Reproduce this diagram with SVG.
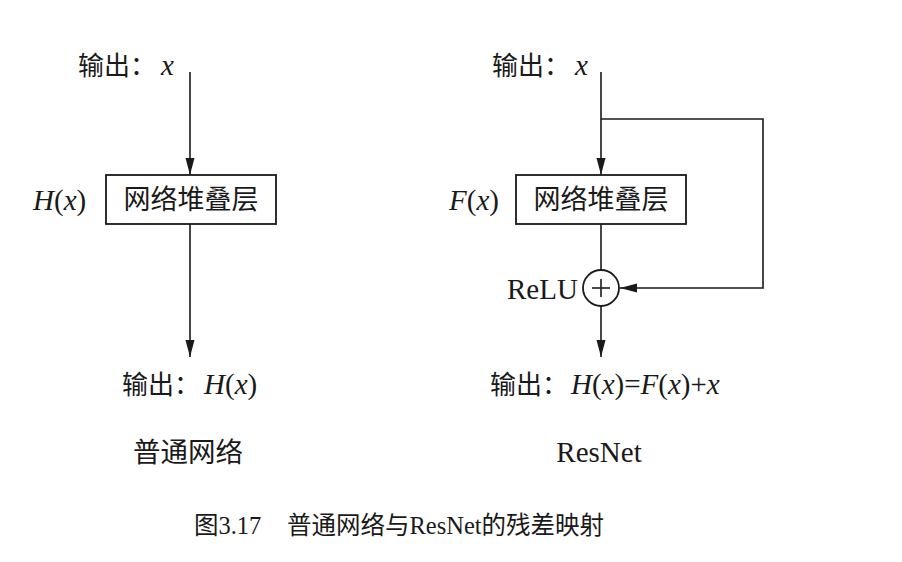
<svg xmlns="http://www.w3.org/2000/svg" width="902" height="562" viewBox="0 0 902 562">
<style>
.cn{font-family:"Liberation Serif","Noto Sans CJK SC",serif;font-size:26px;fill:#1a1a1a}
.m{font-family:"Liberation Serif","Noto Sans CJK SC",serif;font-size:29px;fill:#1a1a1a}
.i{font-style:italic}
.ln{stroke:#1a1a1a;stroke-width:1.6;fill:none}
.box{stroke:#1a1a1a;stroke-width:1.8;fill:#fff}
</style>
<defs>
<marker id="ah" markerUnits="userSpaceOnUse" markerWidth="18" markerHeight="10" refX="17" refY="5" orient="auto">
<path d="M0,0.5 L17,5 L0,9.5 z" fill="#1a1a1a"/>
</marker>
</defs>
<rect width="902" height="562" fill="#fff"/>
<g id="connectors">
<line class="ln" x1="190" y1="72" x2="190" y2="175" marker-end="url(#ah)"/>
<line class="ln" x1="190" y1="224" x2="190" y2="357" marker-end="url(#ah)"/>
<line class="ln" x1="601" y1="72" x2="601" y2="175" marker-end="url(#ah)"/>
<polyline class="ln" points="601,119 763,119 763,288 620,288" marker-end="url(#ah)"/>
<line class="ln" x1="601" y1="224" x2="601" y2="270"/>
<line class="ln" x1="601" y1="306" x2="601" y2="357" marker-end="url(#ah)"/>
</g>
<g id="left-input">
<text class="cn" x="78" y="75">输出：<tspan class="m i" x="161">x</tspan></text>
</g>
<g id="left-box">
<rect class="box" x="106" y="175" width="170" height="49"/>
<text class="cn" x="191" y="209" text-anchor="middle" style="font-size:27px">网络堆叠层</text>
<text class="m" x="33" y="210"><tspan class="i">H</tspan>(<tspan class="i">x</tspan>)</text>
</g>
<g id="left-output">
<text class="cn" x="122" y="394">输出：<tspan class="m" x="204"><tspan class="i">H</tspan>(<tspan class="i">x</tspan>)</tspan></text>
</g>
<g id="left-title">
<text class="cn" x="188" y="462" text-anchor="middle" style="font-size:27.5px">普通网络</text>
</g>
<g id="right-input">
<text class="cn" x="492" y="75">输出：<tspan class="m i" x="575">x</tspan></text>
</g>
<g id="right-box">
<rect class="box" x="516" y="175" width="170" height="49"/>
<text class="cn" x="601" y="209" text-anchor="middle" style="font-size:27px">网络堆叠层</text>
<text class="m" x="449" y="210"><tspan class="i">F</tspan>(<tspan class="i">x</tspan>)</text>
</g>
<g id="relu-add">
<circle class="box" cx="601" cy="288" r="18"/>
<line class="ln" x1="592" y1="288" x2="610" y2="288"/>
<line class="ln" x1="601" y1="279" x2="601" y2="297"/>
<text class="m" x="507" y="299">ReLU</text>
</g>
<g id="right-output">
<text class="cn" x="490" y="394">输出：<tspan class="m" x="571"><tspan class="i">H</tspan>(<tspan class="i">x</tspan>)=<tspan class="i">F</tspan>(<tspan class="i">x</tspan>)+<tspan class="i">x</tspan></tspan></text>
</g>
<g id="right-title">
<text class="m" x="599" y="462" text-anchor="middle">ResNet</text>
</g>
<g id="caption">
<text class="cn" x="194" y="534" style="font-size:24.5px">图3.17<tspan x="287">普通网络与ResNet的残差映射</tspan></text>
</g>
</svg>
